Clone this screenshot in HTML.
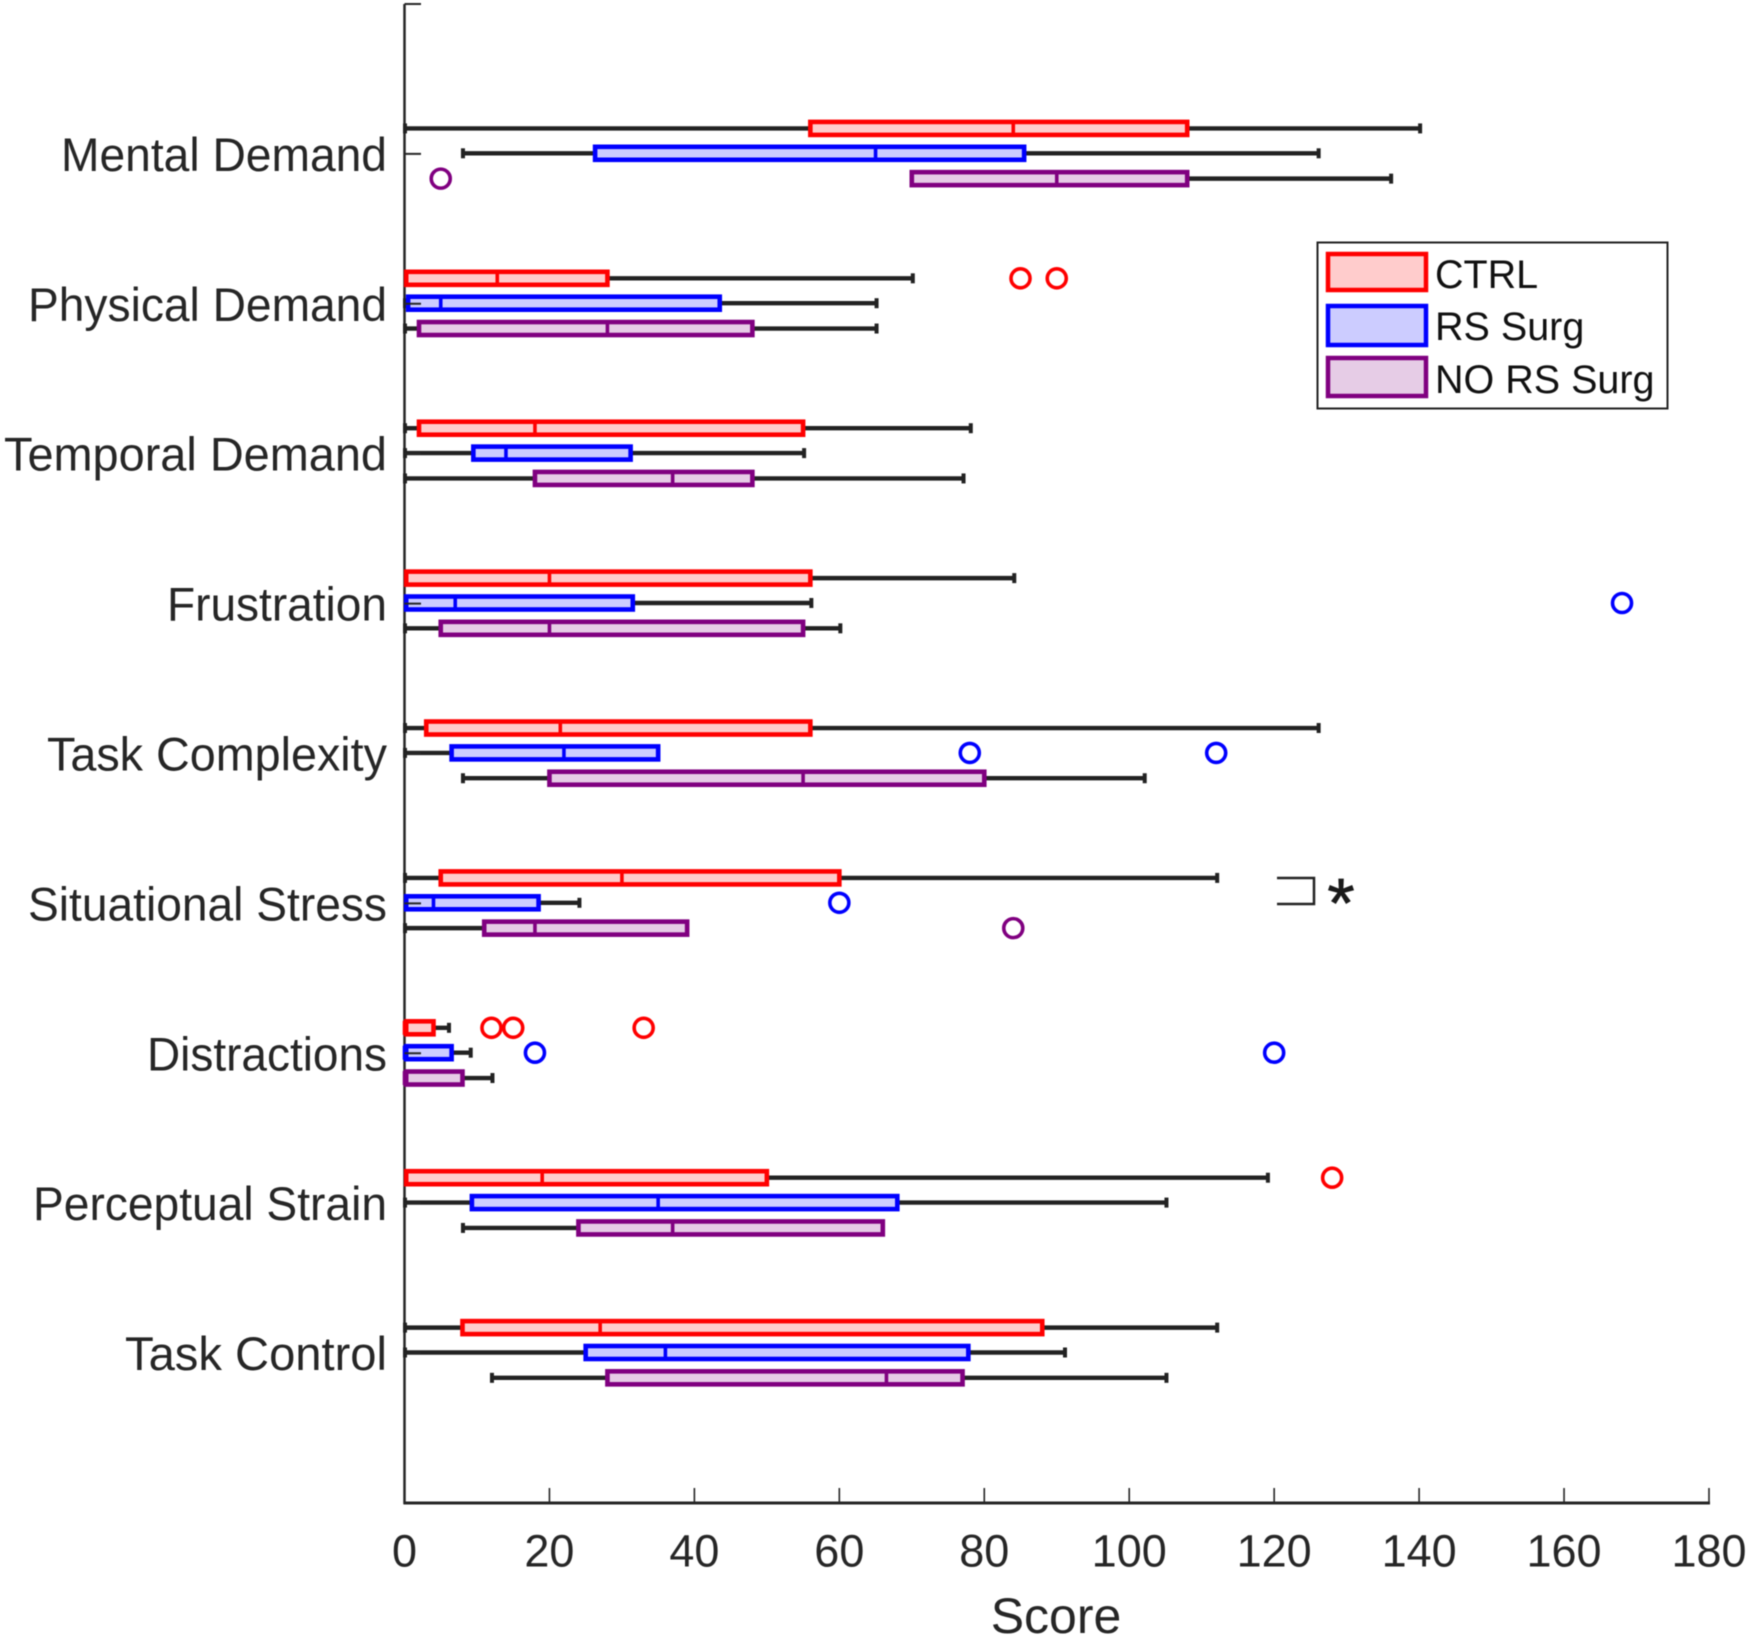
<!DOCTYPE html>
<html lang="en">
<head>
<meta charset="utf-8">
<title>Score box plots</title>
<style>
html,body{margin:0;padding:0;background:#fff;}
#chart{display:block;filter:blur(0.45px);}
text{font-family:"Liberation Sans",Arial,sans-serif;}
</style>
</head>
<body>
<svg id="chart" width="1750" height="1638" viewBox="0 0 1750 1638" xmlns="http://www.w3.org/2000/svg">
  <g id="axes-under"></g>
  <g id="marks"></g>
  <g id="axes-over"></g>
  <text x="1056" y="1633" font-size="50" text-anchor="middle" fill="#262626">Score</text>
  <g>
    <path d="M1277 878H1314V904H1277" fill="none" stroke="#222" stroke-width="2.5"></path>
    <text x="1341" y="927" font-size="70" text-anchor="middle" fill="#1a1a1a" stroke="#1a1a1a" stroke-width="0.8">*</text>
  </g>
  <g>
    <rect x="1317.5" y="242.5" width="350" height="166" fill="#fff" stroke="#222" stroke-width="2"></rect>
    <g>
      <rect x="1328" y="254" width="98" height="36" fill="#ffcccc" stroke="#ff0000" stroke-width="4.5"></rect>
      <text x="1435" y="288" font-size="39.5" fill="#111">CTRL</text>
    </g>
    <g>
      <rect x="1328" y="306" width="98" height="39" fill="#ccccff" stroke="#0000ff" stroke-width="4.5"></rect>
      <text x="1435" y="340" font-size="39.5" fill="#111">RS Surg</text>
    </g>
    <g>
      <rect x="1328" y="358" width="98" height="38" fill="#e6cce6" stroke="#800080" stroke-width="4.5"></rect>
      <text x="1435" y="393" font-size="39.5" fill="#111">NO RS Surg</text>
    </g>
  </g>
</svg>
<script>
const categories = ["Mental Demand","Physical Demand","Temporal Demand","Frustration","Task Complexity","Situational Stress","Distractions","Perceptual Strain","Task Control"];
const xTickValues = [0,20,40,60,80,100,120,140,160,180];

const ctrlMin    = [0,0,0,0,0,0,0,0,0];
const ctrlQ1     = [56,0,2,0,3,5,0,0,8];
const ctrlMedian = [84,12.8,18,20,21.5,30,0,19,27];
const ctrlQ3     = [108,28,55,56,56,60,4,50,88];
const ctrlMax    = [140,70,78,84,126,112,6,119,112];
const ctrlOutliers = [[],[85,90],[],[],[],[],[12,15,33],[128],[]];

const rsMin    = [8,0,0,0,0,0,0,0,0];
const rsQ1     = [26.3,0.5,9.5,0,6.5,0,0,9.3,25];
const rsMedian = [65,5,14,7,22,4,0,35,36];
const rsQ3     = [85.5,43.5,31.2,31.5,35,18.5,6.5,68,77.8];
const rsMax    = [126,65,55,56,35,24,9,105,91];
const rsOutliers = [[],[],[],[168],[78,112],[60],[18,120],[],[]];

const noRsMin    = [70,0,0,0,8,0,0,8,12];
const noRsQ1     = [70,2,18,5,20,11,0,24,28];
const noRsMedian = [90,28,37,20,55,18,0,37,66.5];
const noRsQ3     = [108,48,48,55,80,39,8,66,77];
const noRsMax    = [136,65,77,60,102,39,12,66,105];
const noRsOutliers = [[5],[],[],[],[],[84],[],[],[]];

const SVG_NS = "http://www.w3.org/2000/svg";
function xScale(v){ return 404.5 + v * (1709 - 404.5) / 180; }
function yScale(c){ return 4 + c * 149.9; }

function labelWidth(name){
  if (name === "Mental Demand") return 326;
  if (name === "Physical Demand") return 359;
  if (name === "Temporal Demand") return 383;
  if (name === "Frustration") return 220;
  if (name === "Task Complexity") return 340;
  if (name === "Situational Stress") return 359;
  if (name === "Distractions") return 240;
  if (name === "Perceptual Strain") return 354;
  return 262;
}

function make(parent, tag, attrs){
  const el = document.createElementNS(SVG_NS, tag);
  for (const k in attrs) el.setAttribute(k, attrs[k]);
  parent.appendChild(el);
  return el;
}

const under = document.getElementById("axes-under");
const marks = document.getElementById("marks");
const over = document.getElementById("axes-over");

const yAxisLine = make(under, "line", {x1:404.5,x2:404.5,y1:4,y2:1504,stroke:"#262626","stroke-width":2.5});



const series = [
  {id:"ctrl",   color:"#ff0000", fill:"#ffcccc", offset:-0.17,  min:ctrlMin, q1:ctrlQ1, med:ctrlMedian, q3:ctrlQ3, max:ctrlMax, out:ctrlOutliers},
  {id:"rs-surg",color:"#0000ff", fill:"#ccccff", offset:-0.004, min:rsMin,   q1:rsQ1,   med:rsMedian,   q3:rsQ3,   max:rsMax,   out:rsOutliers},
  {id:"no-rs-surg",color:"#800080", fill:"#e6cce6", offset:0.165, min:noRsMin, q1:noRsQ1, med:noRsMedian, q3:noRsQ3, max:noRsMax, out:noRsOutliers}
];

series.forEach(function(s){
  categories.forEach(function(cat, i){
    const y = yScale(i + 1 + s.offset);
    const g = make(marks, "g", {});
    
    

    if (s.min[i] < s.q1[i]) {
      const wl = make(g, "line", {x1:xScale(s.min[i]),x2:xScale(s.q1[i]),y1:y,y2:y,stroke:"#222","stroke-width":4.4});
      
      
      const cl = make(g, "line", {x1:xScale(s.min[i])+0.5,x2:xScale(s.min[i])+0.5,y1:y-5,y2:y+5,stroke:"#222","stroke-width":4});
      
      
    }
    if (s.max[i] > s.q3[i]) {
      const wh = make(g, "line", {x1:xScale(s.q3[i]),x2:xScale(s.max[i])+1,y1:y,y2:y,stroke:"#222","stroke-width":4.4});
      
      
      const ch = make(g, "line", {x1:xScale(s.max[i])+1,x2:xScale(s.max[i])+1,y1:y-5,y2:y+5,stroke:"#222","stroke-width":4});
      
      
    }
    const boxLeft = Math.max(xScale(s.q1[i]), xScale(0) + 1.7);
    const rect = make(g, "rect", {x:boxLeft,y:y-6.5,width:xScale(s.q3[i])-boxLeft,height:13,fill:s.fill,stroke:s.color,"stroke-width":4.6});
    
    
    const med = make(g, "line", {x1:xScale(s.med[i]),x2:xScale(s.med[i]),y1:y-7,y2:y+7,stroke:s.color,"stroke-width":3.6});
    
    

    s.out[i].forEach(function(v){
      const c = make(g, "circle", {cx:xScale(v),cy:y,r:9.5,fill:"none",stroke:s.color,"stroke-width":3.6});
      
      
    });
  });
});

const xAxisLine = make(over, "line", {x1:403.5,x2:1710,y1:1503,y2:1503,stroke:"#262626","stroke-width":3});



xTickValues.forEach(function(v){
  if (v > 0) {
    const t = make(over, "line", {x1:xScale(v),x2:xScale(v),y1:1488,y2:1503,stroke:"#262626","stroke-width":1.6});
    
    
  }
  const label = make(over, "text", {x:xScale(v),y:1566.5,"font-size":45,"text-anchor":"middle",fill:"#262626"});
  label.textContent = String(v);
  
  
});

const topTick = make(over, "line", {x1:404.5,x2:421,y1:yScale(0),y2:yScale(0),stroke:"#262626","stroke-width":2});



categories.forEach(function(cat, i){
  const y = yScale(i + 1);
  const tick = make(over, "line", {x1:404.5,x2:421,y1:y,y2:y,stroke:"#262626","stroke-width":2});
  
  
  const label = make(over, "text", {x:387,y:y+17,"font-size":47,"text-anchor":"end",fill:"#262626",textLength:labelWidth(cat),lengthAdjust:"spacingAndGlyphs"});
  label.textContent = cat;
  
  
});
</script>
</body>
</html>
